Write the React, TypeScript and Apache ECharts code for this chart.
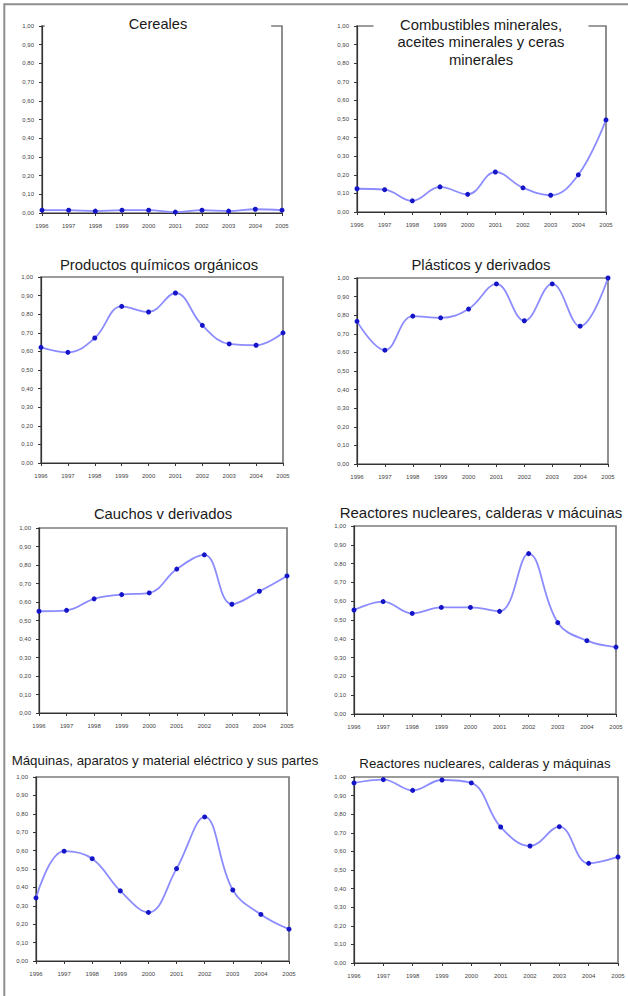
import React, { useEffect, useRef } from "react";
import * as echarts from "echarts";

const years = ["1996", "1997", "1998", "1999", "2000", "2001", "2002", "2003", "2004", "2005"];

const titles = [
  "Cereales",
  "Combustibles minerales,\naceites minerales y ceras\nminerales",
  "Productos químicos orgánicos",
  "Plásticos y derivados",
  "Cauchos v derivados",
  "Reactores nucleares, calderas v mácuinas",
  "Máquinas, aparatos y material eléctrico y sus partes",
  "Reactores nucleares, calderas y máquinas",
];

const cereales = [0.015, 0.015, 0.01, 0.015, 0.015, 0.005, 0.015, 0.01, 0.02, 0.015];
const combustibles = [0.125, 0.12, 0.06, 0.135, 0.095, 0.215, 0.13, 0.09, 0.2, 0.495];
const quimicos = [0.622, 0.595, 0.672, 0.842, 0.812, 0.914, 0.74, 0.64, 0.633, 0.7];
const plasticos = [0.767, 0.612, 0.795, 0.786, 0.833, 0.968, 0.77, 0.968, 0.741, 1.0];
const cauchos = [0.55, 0.555, 0.617, 0.64, 0.649, 0.778, 0.855, 0.588, 0.658, 0.741];
const reactores1 = [0.553, 0.598, 0.535, 0.567, 0.567, 0.546, 0.853, 0.486, 0.39, 0.356];
const maquinas = [0.343, 0.597, 0.556, 0.381, 0.264, 0.502, 0.783, 0.386, 0.253, 0.173];
const reactores2 = [0.968, 0.986, 0.928, 0.984, 0.968, 0.731, 0.629, 0.733, 0.536, 0.57];

const seriesData = [cereales, combustibles, quimicos, plasticos, cauchos, reactores1, maquinas, reactores2];

// layout: grid rectangles and title anchors (px)
const gridBoxes = [
  { left: 42, top: 26, width: 240, height: 187 },
  { left: 357, top: 26, width: 249, height: 186 },
  { left: 41, top: 277, width: 242, height: 186 },
  { left: 357, top: 278, width: 251, height: 186 },
  { left: 39, top: 528, width: 248, height: 185 },
  { left: 354, top: 526, width: 262, height: 188 },
  { left: 36, top: 777, width: 253, height: 184 },
  { left: 354, top: 777, width: 264, height: 186 },
];

const titleAnchors = [
  { x: 158, y: 24, size: 14.6, pad: [1, 84] },
  { x: 481, y: 42, size: 14.8, pad: [1, 24] },
  { x: 159, y: 265, size: 14.8, pad: [0, 0] },
  { x: 481, y: 265, size: 14.8, pad: [0, 0] },
  { x: 163, y: 514, size: 14.8, pad: [0, 0] },
  { x: 481, y: 512, size: 15, pad: [0, 0] },
  { x: 165, y: 760, size: 13.3, pad: [0, 0] },
  { x: 485, y: 763, size: 13.3, pad: [0, 0] },
];

const FONT = '"Liberation Sans", Arial, sans-serif';

export default function App() {
  const ref = useRef<HTMLDivElement>(null);

  useEffect(() => {
    document.body.style.margin = "0";
    if (!ref.current) return;
    const chart = echarts.init(ref.current, undefined, { renderer: "svg" });

    const grids = gridBoxes.map((g) => ({
      ...g,
      show: true,
      borderColor: "#7c7c7c",
      borderWidth: 1.7,
      backgroundColor: "transparent",
      containLabel: false,
    }));

    const xAxes = gridBoxes.map((_, i) => ({
      type: "category",
      gridIndex: i,
      data: years,
      boundaryGap: false,
      axisLine: { show: true, lineStyle: { color: "#333", width: 1.2 } },
      axisTick: { show: true, length: 3, inside: false, lineStyle: { color: "#333" } },
      axisLabel: { fontSize: 6, color: "#444", margin: 10, interval: 0, fontFamily: FONT },
      splitLine: { show: false },
    }));

    const yAxes = gridBoxes.map((_, i) => ({
      type: "value",
      gridIndex: i,
      min: 0,
      max: 1,
      interval: 0.1,
      axisLine: { show: true, lineStyle: { color: "#333", width: 1.2 } },
      axisTick: { show: true, length: 3, lineStyle: { color: "#333" } },
      axisLabel: {
        fontSize: 6,
        color: "#444",
        margin: 8,
        fontFamily: FONT,
        formatter: (v: number) => v.toFixed(2).replace(".", ","),
      },
      splitLine: { show: false },
    }));

    const series = seriesData.map((d, i) => ({
      type: "line",
      name: titles[i],
      xAxisIndex: i,
      yAxisIndex: i,
      data: d,
      smooth: 0.4,
      clip: false,
      symbol: "circle",
      symbolSize: 5,
      lineStyle: { color: "#8c8cff", width: 1.8 },
      itemStyle: { color: "#1414c8" },
      z: 3,
    }));

    const graphics: any[] = [
      {
        type: "line",
        shape: { x1: 4.3, y1: 4.3, x2: 628, y2: 4.3 },
        style: { stroke: "#8e8e8e", lineWidth: 2 },
        z: 50,
      },
      {
        type: "line",
        shape: { x1: 4.3, y1: 3.3, x2: 4.3, y2: 996 },
        style: { stroke: "#8e8e8e", lineWidth: 2 },
        z: 50,
      },
    ];

    titleAnchors.forEach((t, i) => {
      const bg = t.pad[1] > 0;
      graphics.push({
        type: "text",
        x: t.x,
        y: t.y,
        z: 100,
        style: {
          text: titles[i],
          fill: "#1a1a1a",
          fontSize: t.size,
          fontFamily: FONT,
          lineHeight: 17.5,
          align: "center",
          verticalAlign: "middle",
          textAlign: "center",
          textVerticalAlign: "middle",
          backgroundColor: bg ? "#ffffff" : undefined,
          padding: t.pad,
        },
      });
    });

    chart.setOption({
      animation: false,
      backgroundColor: "#ffffff",
      grid: grids,
      xAxis: xAxes,
      yAxis: yAxes,
      series,
      graphic: graphics,
    });

    return () => chart.dispose();
  }, []);

  return <div ref={ref} style={{ width: 628, height: 996 }} />;
}
